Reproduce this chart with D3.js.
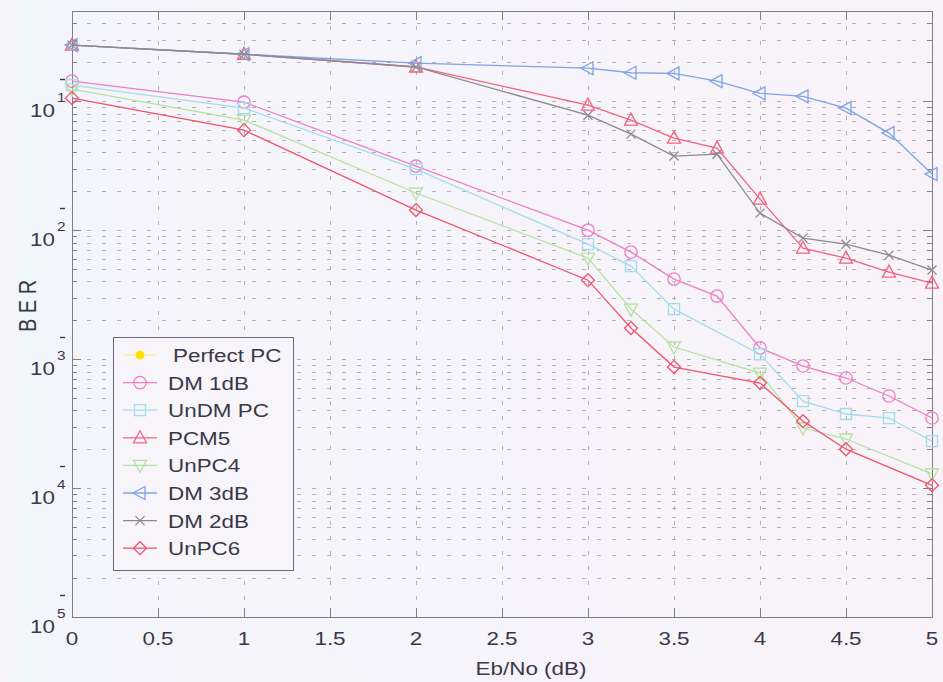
<!DOCTYPE html>
<html>
<head>
<meta charset="utf-8">
<script src="https://cdn.jsdelivr.net/npm/d3@7"></script>
<style>
  html, body { margin: 0; padding: 0; background: #f6f4f9; }
  svg { display: block; font-family: "Liberation Sans", Arial, Helvetica, sans-serif; }
</style>
</head>
<body>
<svg id="chart" width="943" height="682"></svg>
<script>
'use strict'

// x positions (Eb/No in dB)
const ebnoAll = [0, 1, 2, 3, 3.25, 3.5, 3.75, 4, 4.25, 4.5, 4.75, 5]
const ebnoUnDM = [0, 1, 2, 3, 3.25, 3.5, 4, 4.25, 4.5, 4.75, 5]
const ebnoUnPC = [0, 1, 2, 3, 3.25, 3.5, 4, 4.25, 4.5, 5]

// BER values
const perfectPC = []   // nothing of it shows on the plot
const dm1dB = [0.143, 0.0982, 0.0313, 0.0100, 0.00675, 0.00417, 0.00308, 0.00122, 0.000883, 0.000713, 0.000517, 0.000349]
const undmPC = [0.133, 0.0883, 0.0297, 0.00778, 0.00526, 0.00244, 0.00109, 0.000472, 0.000375, 0.000349, 0.000231]
const pcm5 = [0.272, 0.231, 0.184, 0.0931, 0.0713, 0.0517, 0.0432, 0.0174, 0.00724, 0.00606, 0.00472, 0.00388]
const unPC4 = [0.124, 0.0713, 0.0194, 0.00606, 0.00244, 0.00124, 0.000778, 0.000292, 0.000240, 0.000129]
const dm3dB = [0.272, 0.231, 0.197, 0.180, 0.166, 0.164, 0.143, 0.115, 0.109, 0.0883, 0.0565, 0.0272]
const dm2dB = [0.272, 0.231, 0.184, 0.0778, 0.0555, 0.0375, 0.0388, 0.01355, 0.00867, 0.00778, 0.0064, 0.0049]
const unPC6 = [0.1055, 0.0596, 0.0143, 0.00409, 0.00174, 0.000867, 0.000652, 0.000330, 0.000200, 0.000105]

const xTicks = [0, 0.5, 1, 1.5, 2, 2.5, 3, 3.5, 4, 4.5, 5]
const xTickLabels = ['0', '0.5', '1', '1.5', '2', '2.5', '3', '3.5', '4', '4.5', '5']
const yMajor = [1e-1, 1e-2, 1e-3, 1e-4, 1e-5]
const yExpLabels = ['1', '2', '3', '4', '5']

const series = [
  { name: 'Perfect PC', xs: [], ys: perfectPC, color: '#ffe100', line: '#fbeea0', marker: 'dot' },
  { name: 'DM 1dB', xs: ebnoAll, ys: dm1dB, color: '#ef7cc6', marker: 'circle' },
  { name: 'UnDM PC', xs: ebnoUnDM, ys: undmPC, color: '#a3dcee', marker: 'square' },
  { name: 'PCM5', xs: ebnoAll, ys: pcm5, color: '#f2627f', marker: 'triUp' },
  { name: 'UnPC4', xs: ebnoUnPC, ys: unPC4, color: '#b6e2a2', marker: 'triDown' },
  { name: 'DM 3dB', xs: ebnoAll, ys: dm3dB, color: '#7fa3e4', marker: 'triLeft' },
  { name: 'DM 2dB', xs: ebnoAll, ys: dm2dB, color: '#8c8a90', marker: 'cross' },
  { name: 'UnPC6', xs: ebnoUnPC, ys: unPC6, color: '#f0526f', marker: 'diamond' }
]

const ink = '#3a3848',
  SX = 1.18,   // the scan is stretched sideways
  svg = d3.select('#chart'),
  x = d3.scaleLinear().domain([0, 5]).range([72, 932]),
  y = d3.scaleLog().domain([1e-5, 0.5]).range([617, 11])

// faint scanned-paper background
const defs = svg.append('defs')
const grad = defs.append('linearGradient').attr('id', 'paper')
grad.append('stop').attr('offset', '0%').attr('stop-color', '#f8f4f9')
grad.append('stop').attr('offset', '3%').attr('stop-color', '#eef8f9')
grad.append('stop').attr('offset', '6%').attr('stop-color', '#f4f5fa')
grad.append('stop').attr('offset', '60%').attr('stop-color', '#f6f4fa')
grad.append('stop').attr('offset', '100%').attr('stop-color', '#f8f3f8')
svg.append('rect').attr('width', 943).attr('height', 682).attr('fill', 'url(#paper)')

// grid
const grid = svg.append('g').attr('stroke', '#8e8e96').attr('stroke-width', 1)
  .attr('stroke-dasharray', '4,11').attr('opacity', 0.65)
grid.selectAll('line.h').data(y.ticks().filter(v => v > 1e-5))
  .enter().append('line')
  .attr('x1', x(0)).attr('x2', x(5))
  .attr('y1', d => Math.round(y(d)) + 0.5).attr('y2', d => Math.round(y(d)) + 0.5)
grid.selectAll('line.v').data(xTicks.slice(1, -1))
  .enter().append('line')
  .attr('x1', d => Math.round(x(d)) + 0.5).attr('x2', d => Math.round(x(d)) + 0.5)
  .attr('y1', y(0.5)).attr('y2', y(1e-5))

// axes box + ticks
const axisColor = '#7e7e8c'
const box = svg.append('g').attr('stroke', axisColor).attr('fill', 'none')
box.append('rect')
  .attr('x', x(0) + 0.5).attr('y', y(0.5) + 0.5)
  .attr('width', x(5) - x(0)).attr('height', y(1e-5) - y(0.5))

xTicks.forEach(t => {
  const px = Math.round(x(t)) + 0.5
  box.append('line').attr('x1', px).attr('x2', px).attr('y1', y(1e-5)).attr('y2', y(1e-5) - 9)
  box.append('line').attr('x1', px).attr('x2', px).attr('y1', y(0.5)).attr('y2', y(0.5) + 9)
})
y.ticks().forEach(t => {
  const py = Math.round(y(t)) + 0.5,
    len = yMajor.indexOf(t) >= 0 ? 9 : 5
  box.append('line').attr('x1', x(0)).attr('x2', x(0) + len).attr('y1', py).attr('y2', py)
  box.append('line').attr('x1', x(5)).attr('x2', x(5) - len).attr('y1', py).attr('y2', py)
})

function label(sel, px, py, txt, size, anchor) {
  return sel.append('text')
    .attr('transform', 'translate(' + px + ',' + py + ') scale(' + SX + ',1)')
    .attr('font-size', size)
    .attr('text-anchor', anchor)
    .attr('fill', ink)
    .text(txt)
}

const labels = svg.append('g')
xTicks.forEach((t, i) => label(labels, x(t), 645, xTickLabels[i], 19, 'middle'))
yMajor.forEach((v, i) => {
  const py = y(v)
  label(labels, 55, py + 16, '10', 19, 'end')
  label(labels, 57, py + 1, yExpLabels[i], 13, 'start')
  // the faint minus sign of the exponent sits well above in the scan
  labels.append('line')
    .attr('x1', 60).attr('x2', 65)
    .attr('y1', Math.round(py) - 21.5).attr('y2', Math.round(py) - 21.5)
    .attr('stroke', ink).attr('stroke-width', 1.4)
})
label(labels, 531, 675, 'Eb/No (dB)', 19, 'middle')
labels.append('text')
  .attr('transform', 'translate(36,306) scale(' + SX + ',1) rotate(-90)')
  .attr('font-size', 20).attr('text-anchor', 'middle').attr('fill', ink)
  .text('B E R')

// marker shapes
function markerPath(type) {
  switch (type) {
    case 'circle': return d3.symbol(d3.symbolCircle, 120)()
    case 'dot': return d3.symbol(d3.symbolCircle, 45)()
    case 'square': return 'M-5.5,-5.5H5.5V5.5H-5.5Z'
    case 'triUp': return 'M0,-7L6.5,5L-6.5,5Z'
    case 'triDown': return 'M0,7L6.5,-5L-6.5,-5Z'
    case 'triLeft': return 'M-7,0L5,-6.5L5,6.5Z'
    case 'cross': return 'M-4.5,-4.5L4.5,4.5M-4.5,4.5L4.5,-4.5'
    case 'diamond': return 'M0,-6.5L6.5,0L0,6.5L-6.5,0Z'
  }
}

const plot = svg.append('g')
const line = d3.line().x(d => x(d[0])).y(d => y(d[1]))

series.forEach(s => {
  const pts = s.xs.map((v, i) => [v, s.ys[i]]).filter(d => d[1] !== undefined)
  const g = plot.append('g')
  g.append('path').datum(pts)
    .attr('d', line)
    .attr('fill', 'none')
    .attr('stroke', s.line || s.color)
    .attr('stroke-width', 1.3)
  g.selectAll('path.m').data(pts).enter().append('path')
    .attr('transform', d => 'translate(' + x(d[0]) + ',' + y(d[1]) + ')')
    .attr('d', markerPath(s.marker))
    .attr('fill', s.marker === 'dot' ? s.color : 'none')
    .attr('stroke', s.color)
    .attr('stroke-width', 1.3)
})

// legend
const legend = svg.append('g')
legend.append('rect')
  .attr('x', 113.5).attr('y', 337.5).attr('width', 180).attr('height', 233)
  .attr('fill', '#f7f5fa').attr('stroke', '#6c6a78').attr('stroke-width', 1)

const items = legend.selectAll('g.item').data(series).enter().append('g')
  .attr('transform', (d, i) => 'translate(0,' + (355 + i * 27.6) + ')')
items.append('line')
  .attr('x1', 123).attr('x2', 157)
  .attr('stroke', d => d.line || d.color).attr('stroke-width', 1.3)
items.append('path')
  .attr('transform', 'translate(140,0)')
  .attr('d', d => markerPath(d.marker))
  .attr('fill', d => d.marker === 'dot' ? d.color : 'none')
  .attr('stroke', d => d.color).attr('stroke-width', 1.3)
items.each(function (d, i) {
  label(d3.select(this), i === 0 ? 173 : 168, 7, d.name, 19, 'start')
})
</script>
</body>
</html>
